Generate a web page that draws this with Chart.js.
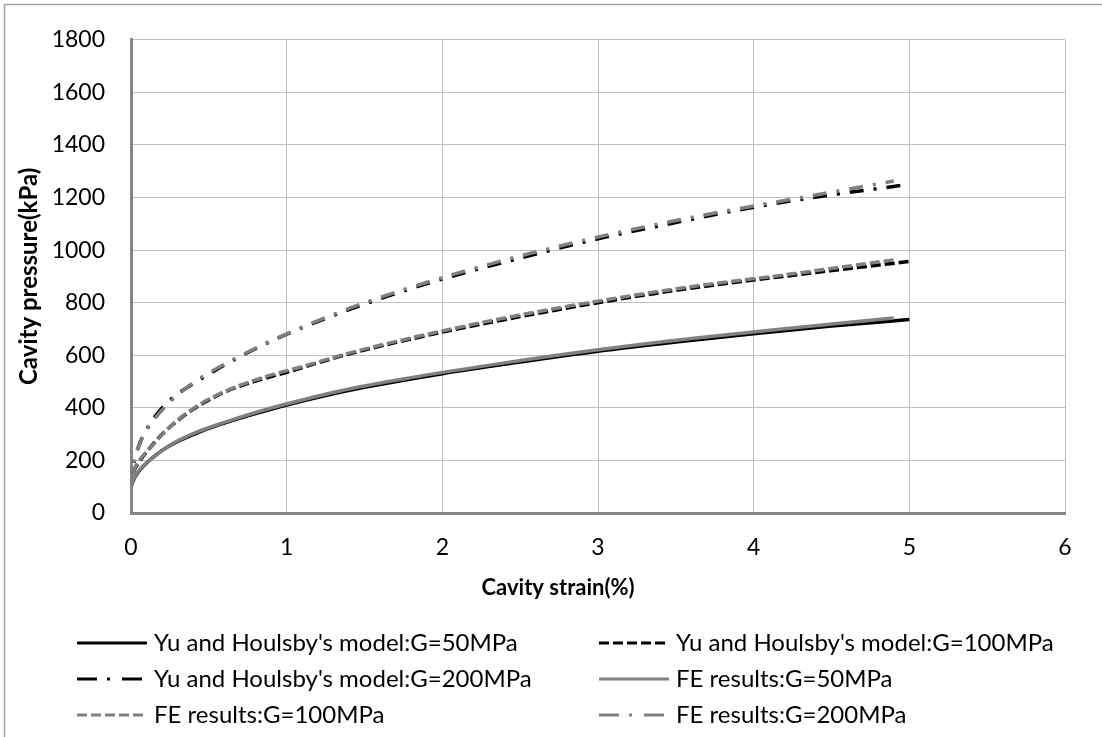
<!DOCTYPE html>
<html>
<head>
<meta charset="utf-8">
<script src="https://cdn.jsdelivr.net/npm/chart.js@4.4.1/dist/chart.umd.min.js"></script>
<style>
  html, body { margin: 0; padding: 0; background: #fff; }
  #chartContainer { width: 1102px; height: 737px; position: relative; }
</style>
</head>
<body>
<div id="chartContainer"><canvas id="cavityChart"></canvas></div>
<script>
// Yu and Houlsby analytical curves (strain %, pressure kPa)
var yuStrain    = [0, 0.02, 0.05, 0.1, 0.2, 0.3, 0.4, 0.5, 0.6, 0.8, 1, 1.25, 1.5, 2, 2.5, 3, 3.5, 4, 4.5, 5];
var yuG50       = [100, 130, 158, 190, 238, 272, 298, 322, 342, 378, 411, 447, 478, 530, 574, 615, 650, 682, 711, 736];
var yuG100      = [100, 160, 192, 232, 300, 352, 395, 430, 460, 502, 535, 580, 620, 688, 747, 800, 847, 886, 922, 957];
var yuG200      = [100, 190, 255, 318, 400, 453, 492, 528, 563, 625, 680, 740, 795, 890, 970, 1043, 1105, 1163, 1210, 1250];

// FE results
var feStrain    = [0, 0.02, 0.06, 0.12, 0.25, 0.4, 0.6, 0.85, 1.1, 1.4, 1.8, 2.4, 3.0, 3.6, 4.2, 4.9];
var feG50       = [100, 132, 168, 200, 258, 302, 345, 391, 430, 472, 515, 571, 621, 664, 701, 742];
var feG100      = [100, 162, 205, 245, 328, 398, 462, 516, 557, 608, 666, 742, 806, 861, 906, 963];
var feG200      = [100, 195, 268, 332, 422, 495, 566, 641, 707, 778, 859, 962, 1050, 1124, 1189, 1263];

var seriesLabels = [
    "Yu and Houlsby's model:G=50MPa",
    "Yu and Houlsby's model:G=100MPa",
    "Yu and Houlsby's model:G=200MPa",
    "FE results:G=50MPa",
    "FE results:G=100MPa",
    "FE results:G=200MPa"
];

var xTicks = [0, 1, 2, 3, 4, 5, 6];
var yTicks = [0, 200, 400, 600, 800, 1000, 1200, 1400, 1600, 1800];

var xTitle = 'Cavity strain(%)';
var yTitle = 'Cavity pressure(kPa)';

function toPoints(xs, ys) {
    var pts = [];
    for (var i = 0; i < xs.length; i++) {
        pts.push({ x: xs[i], y: ys[i] });
    }
    return pts;
}

var solid = [];
var dashShort = [10, 4];
var dashDot = [14, 10, 3, 10];
var dashDotKey = [20, 10, 3, 12];

function makeSet(label, xs, ys, color, dash, keyDash, order) {
    return {
        label: label,
        data: toPoints(xs, ys),
        borderColor: color,
        backgroundColor: color,
        borderWidth: 3.5,
        borderDash: dash,
        keyDash: keyDash,
        order: order,
        pointRadius: 0,
        fill: false,
        cubicInterpolationMode: 'monotone'
    };
}

var fontFamily = 'Lato, "Liberation Sans", sans-serif';
Chart.defaults.font.family = fontFamily;
Chart.defaults.font.size = 23;
Chart.defaults.color = '#000';

// outer frame of the chart object
var framePlugin = {
    id: 'frame',
    beforeDraw: function(chart) {
        var c = chart.ctx;
        c.save();
        c.strokeStyle = '#a6a6a6';
        c.lineWidth = 1.5;
        c.strokeRect(4.5, 4.5, chart.width + 20, chart.height + 20);
        c.restore();
    }
};

// x axis title, drawn a bit left of the plot centre
var xTitlePlugin = {
    id: 'xTitle',
    afterDraw: function(chart) {
        var c = chart.ctx;
        c.save();
        c.font = 'bold 22px ' + fontFamily;
        c.textAlign = 'center';
        c.textBaseline = 'middle';
        c.fillStyle = '#000';
        c.fillText(xTitle, 558, 588);
        c.restore();
    }
};

// two-column legend under the plot
var legendPlugin = {
    id: 'gridLegend',
    afterDraw: function(chart) {
        var c = chart.ctx;
        var colX = [77, 599];
        var rowY = [643, 679, 715];
        var sampleLen = 70;
        c.save();
        c.font = '24px ' + fontFamily;
        c.textBaseline = 'middle';
        c.fillStyle = '#000';
        chart.data.datasets.forEach(function(ds, i) {
            var x = colX[i % 2];
            var y = rowY[Math.floor(i / 2)];
            c.beginPath();
            c.strokeStyle = ds.borderColor;
            c.lineWidth = 3;
            c.setLineDash(ds.keyDash || []);
            c.moveTo(x, y);
            c.lineTo(x + sampleLen, y);
            c.stroke();
            c.setLineDash([]);
            c.fillText(ds.label, x + sampleLen + 7, y);
        });
        c.restore();
    }
};

var ctx = document.getElementById('cavityChart').getContext('2d');
var cavityChart = new Chart(ctx, {
    type: 'line',
    data: {
        datasets: [
            makeSet(seriesLabels[0], yuStrain, yuG50, '#000000', solid, solid, 1),
            makeSet(seriesLabels[1], yuStrain, yuG100, '#000000', dashShort, dashShort, 1),
            makeSet(seriesLabels[2], yuStrain, yuG200, '#000000', dashDot, dashDotKey, 1),
            makeSet(seriesLabels[3], feStrain, feG50, '#808080', solid, solid, 0),
            makeSet(seriesLabels[4], feStrain, feG100, '#808080', dashShort, dashShort, 0),
            makeSet(seriesLabels[5], feStrain, feG200, '#808080', dashDot, dashDotKey, 0)
        ]
    },
    options: {
        responsive: true,
        maintainAspectRatio: false,
        animation: false,
        layout: {
            padding: { left: 0, top: 39, right: 37, bottom: 137 }
        },
        plugins: {
            legend: { display: false },
            tooltip: { enabled: false }
        },
        scales: {
            x: {
                type: 'linear',
                min: 0,
                max: 6,
                afterFit: function(scale) { scale.height = 87; },
                afterBuildTicks: function(scale) {
                    scale.ticks = xTicks.map(function(v) { return { value: v }; });
                },
                ticks: {
                    padding: 21,
                    maxRotation: 0,
                    callback: function(v) { return String(v); }
                },
                grid: { color: '#c0c0c0', lineWidth: 1, drawTicks: false },
                border: { color: '#868686', width: 3 }
            },
            y: {
                type: 'linear',
                min: 0,
                max: 1800,
                afterFit: function(scale) { scale.width = 131; },
                afterBuildTicks: function(scale) {
                    scale.ticks = yTicks.map(function(v) { return { value: v }; });
                },
                ticks: {
                    padding: 26,
                    callback: function(v) { return String(v); }
                },
                grid: { color: '#c0c0c0', lineWidth: 1, drawTicks: false },
                border: { color: '#868686', width: 3 },
                title: {
                    display: true,
                    text: yTitle,
                    font: { weight: 'bold', size: 24 },
                    padding: { top: 15, bottom: 0 }
                }
            }
        }
    },
    plugins: [framePlugin, xTitlePlugin, legendPlugin]
});
</script>
</body>
</html>
